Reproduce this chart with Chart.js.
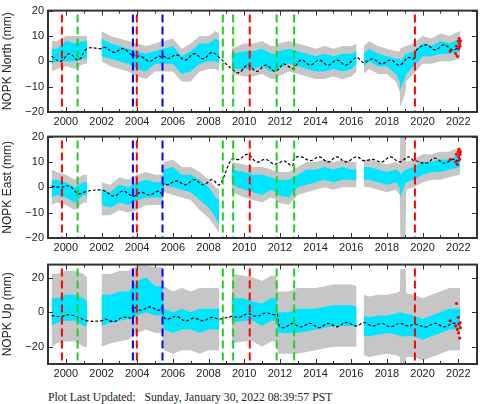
<!DOCTYPE html>
<html>
<head>
<meta charset="utf-8">
<script src="https://cdn.jsdelivr.net/npm/chart.js@4"></script>
<style>
  body { margin: 0; background: #fff; width: 481px; height: 404px; overflow: hidden; position: relative; }
  canvas { position: absolute; left: 0; }
  #footer { position: absolute; left: 48px; top: 391px; font: 11.7px "Liberation Serif", serif; color: #222; white-space: pre; }
</style>
</head>
<body>
<canvas id="north" width="481" height="126" style="top:0"></canvas>
<canvas id="east" width="481" height="128" style="top:126px"></canvas>
<canvas id="up" width="481" height="124" style="top:254px"></canvas>
<div id="footer">Plot Last Updated:   Sunday, January 30, 2022 08:39:57 PST</div>
<script>
// Data

const times = [1999.2, 1999.5, 2000, 2000.5, 2001, 2001.2, 2001.6, 2002, 2002.5, 2003, 2003.5, 2004, 2004.5, 2005, 2005.4, 2005.5,
    2006, 2006.5, 2007, 2007.5, 2008, 2008.4, 2008.6, 2009, 2009.3, 2010, 2010.5, 2011, 2011.5, 2011.8, 2011.9, 2012.5,
    2013, 2013.5, 2014, 2014.5, 2015, 2015.5, 2016, 2016.3, 2016.5, 2016.7, 2017, 2017.5, 2018, 2018.5, 2018.72, 2018.75,
    2019.05, 2019.08, 2019.5, 2020, 2020.5, 2021, 2021.5, 2022.1];

const northCyanLo = [-1, 0, 0, 0, 1, 1, null, 2, 1, 0, -1, -3, -4, -1, -1, -1, -1, -5, -4, -1, 0, 0, -1, null, -3, -3, -3, -2, -4, -4, -3, -1,
    -2, -3, -4, -4, -3, -4, -3, -1, null, -2, 0, -2, -2, -5, -8, -11, -6, -5, -2, 2, 2, 3, 3, 4];
const northCyanHi = [5, 5, 8, 7, 8, 8, null, 9, 7, 6, 5, 4, 3, 4, 5, 5, 6, 2, 4, 7, 7, 9, 8, null, 3, 4, 4, 5, 3, 3, 4, 5,
    4, 3, 2, 3, 2, 3, 3, 4, null, 3, 5, 3, 2, 1, 1, 0, 3, 3, 4, 7, 6, 8, 7, 9];
const northGrayLo = [-4, -3, -2, -3, -1, -1, null, 0, -2, -3, -4, -6, -7, -4, -4, -4, -4, -8, -8, -4, -3, -3, -4, null, -5, -6, -6, -5, -7, -7, -6, -4,
    -5, -6, -7, -7, -6, -7, -6, -4, null, -5, -3, -5, -5, -8, -12, -18, -12, -8, -5, -1, -1, 0, 0, 1];
const northGrayHi = [8, 8, 10, 10, 10, 10, null, 12, 10, 9, 8, 7, 6, 7, 8, 8, 9, 5, 7, 10, 10, 12, 11, null, 5, 7, 7, 8, 6, 6, 7, 8,
    7, 6, 5, 6, 5, 6, 6, 7, null, 6, 8, 6, 5, 4, 4, 5, 6, 6, 7, 10, 9, 11, 10, 12];

const eastCyanLo = [-4, -3, -4, -6, -3, -3, null, -7, -8, -6, -7, -5, -4, -4, -4, 1, 0, -1, -2, -5, -8, -12, -15, null, 1, -1, -2, -3, -1, -2, -3, -4,
    0, 1, 2, 3, 2, 3, 3, 3, null, 3, 3, 2, 1, 2, 0, -4, 2, 2, 3, 5, 6, 6, 7, 8];
const eastCyanHi = [3, 3, 2, 0, 2, 2, null, -1, -2, 1, 0, 2, 3, 2, 2, 7, 8, 5, 5, 3, 0, -4, -5, null, 7, 6, 5, 5, 4, 3, 3, 3,
    5, 7, 7, 8, 7, 8, 7, 7, null, 8, 8, 7, 6, 7, 6, 5, 7, 7, 8, 10, 10, 11, 11, 13];
const eastGrayLo = [-7, -6, -7, -9, -6, -6, null, -11, -11, -9, -10, -9, -7, -7, -7, -2, -3, -4, -5, -9, -12, -16, -18, null, -2, -4, -5, -6, -4, -5, -6, -7,
    -3, -2, -1, 0, -1, 0, 0, 0, null, 0, 0, -1, -2, -1, -3, -20, -20, -1, 0, 2, 3, 3, 4, 5];
const eastGrayHi = [7, 6, 5, 3, 5, 5, null, 2, 1, 4, 3, 5, 6, 5, 5, 10, 11, 8, 8, 6, 3, 0, -1, null, 10, 9, 8, 8, 7, 6, 6, 6,
    8, 10, 10, 11, 10, 11, 10, 10, null, 11, 11, 10, 9, 10, 9, 20, 20, 10, 11, 13, 13, 14, 14, 16];

const upCyanLo = [-8, -6, -5, -5, -8, -8, null, -8, -6, -5, -4, -2, 0, -2, -2, -10, -12, -10, -10, -12, -10, -10, -10, null, -6, -5, -5, -8, -5, -5, -12, -12,
    -12, -11, -10, -9, -8, -8, -8, -8, null, -14, -14, -13, -12, -13, -14, -14, -14, -14, -14, -16, -14, -12, -10, -10];
const upCyanHi = [8, 8, 10, 10, 8, 6, null, 10, 10, 12, 12, 18, 20, 15, 15, 2, 0, 2, 0, 2, 2, 2, 2, null, 8, 8, 6, 5, 8, 8, 0, 0,
    2, 2, 2, 3, 4, 4, 4, 3, null, -2, -3, -2, -2, -1, 0, 0, -1, -1, -2, -4, -2, 0, 2, 2];
const upGrayLo = [-20, -18, -17, -17, -20, -20, null, -20, -18, -17, -16, -12, -10, -12, -12, -22, -24, -22, -22, -24, -22, -22, -22, null, -18, -17, -17, -20, -17, -17, -24, -24,
    -24, -23, -22, -21, -20, -20, -20, -20, null, -25, -26, -25, -24, -25, -26, -30, -30, -26, -26, -28, -26, -24, -22, -22];
const upGrayHi = [22, 22, 24, 24, 22, 20, null, 22, 22, 24, 24, 27, 27, 26, 26, 15, 12, 14, 12, 14, 14, 14, 14, null, 22, 21, 20, 18, 21, 21, 12, 12,
    14, 14, 14, 15, 16, 16, 16, 15, null, 10, 9, 10, 10, 11, 12, 25, 25, 11, 10, 8, 10, 12, 14, 14];

const modelTimes = [1999.2, 1999.7, 2000.2, 2000.7, 2001.2, 2002.0, 2002.2, 2002.7, 2003.2, 2003.7, 2003.8, 2003.85, 2004.2, 2004.7,
    2005.2, 2005.4, 2005.5, 2005.7, 2006.2, 2006.7, 2007.2, 2007.7, 2008.2, 2008.6, 2009.3, 2009.7, 2010.2, 2010.7, 2011.2, 2011.7,
    2011.85, 2011.95, 2012.2, 2012.7, 2012.8, 2013.2, 2013.7, 2014.2, 2014.7, 2015.2, 2015.7, 2016.3, 2016.7, 2017.2, 2017.7,
    2018.2, 2018.7, 2019.2, 2019.5, 2019.6, 2020.2, 2020.7, 2021.2, 2021.7, 2022.1];
const northModel = [2, 0, 3, 0.5, 5, 5, 5.5, 3.5, 5, 2.5, 3, 2, 2, 0, 2, 1.5, 2, 1, 2.5, 0.5, 3, 1, 3.5, 1.5, -3, -4.5, -1.5, -4, -1.5, -4,
    -3.5, -3, -1, -3, -2.5, 0.5, -1.5, 0.5, -1.5, 0.5, -1.5, 1.5, -0.5, 1, -1, 0.5, -1.5, 1.5, 1, 4, 6.5, 4.5, 6.5, 4.5, 6];
const eastModel = [0.5, 0, 0.5, -2.5, -1.5, -1, -1.5, -3.5, -1.5, -3.5, -3.5, -3.5, -2, -3, -1.5, -2.5, 1.5, 1, 2.5, 1, 3, 1, 3, 1, 11, 11, 13, 10, 11, 9,
    9.5, 9.5, 10.5, 8.5, 11.5, 12, 10.5, 12, 10, 12, 10, 12, 10.5, 11, 10, 12, 10, 12, 10.5, 10.5, 9.5, 11.5, 9.5, 11, 10];
const upModel = [-2, -2.5, -1.5, -3, -5, -5, -4, -5.5, -3, -3.5, -3, 2.5, 1, 3, 1, 2.5, -3, -4, -2.5, -5, -3.5, -5, -3, -4, -2.5, -3, -1, -2.5, -0.5, -1.5,
    -1, -7.5, -9, -6.5, -7, -8.5, -6.5, -9, -6.5, -8.5, -6, -8, -6, -8, -6.5, -8.5, -6.5, -8, -7, -7, -8.5, -6.5, -8.5, -6.5, -7];

const redTimes = [2021.55, 2021.85, 2021.9, 2021.95, 2022.0, 2022.02, 2022.05, 2022.08, 2022.1, 2022.12];
const northRed = [4, 3, 6, 2, 8, 5, 9, 7, 6, 8];
const eastRed = [11, 10, 13, 9, 14, 12, 15, 11, 13, 14];
const upRed = [-5, -8, 5, -10, -3, -12, -7, -15, -6, -9];

const eventYears = [1999.78, 2000.66, 2003.76, 2003.98, 2005.42, 2008.8, 2009.38, 2010.31, 2011.82, 2012.8, 2019.57];
const eventColors = ["#ff0000", "#22cc22", "#0000ff", "#ff0000", "#0000ff", "#22cc22", "#22cc22", "#ff0000", "#22cc22", "#22cc22", "#ff0000"];

const yearTicks = [2000, 2002, 2004, 2006, 2008, 2010, 2012, 2014, 2016, 2018, 2020, 2022];

// Helpers

function pts(xs, ys) {
    return xs.map((x, i) => ({ x: x, y: ys[i] }));
}

function band(lo, hi, color, order) {
    return [
        { data: pts(times, hi), borderWidth: 0, pointRadius: 0, fill: false, spanGaps: false, order: order },
        { data: pts(times, lo), borderWidth: 0, pointRadius: 0, fill: "-1", backgroundColor: color, spanGaps: false, order: order },
    ];
}

const framePlugin = {
    id: "frame",
    afterDatasetsDraw(chart) {
        const ctx = chart.ctx, a = chart.chartArea, xs = chart.scales.x, ys = chart.scales.y;
        ctx.save();
        ctx.beginPath();
        ctx.rect(a.left, a.top, a.right - a.left, a.bottom - a.top);
        ctx.clip();
        ctx.lineWidth = 2;
        ctx.setLineDash([8, 4]);
        eventYears.forEach((yr, i) => {
            const px = xs.getPixelForValue(yr);
            ctx.strokeStyle = eventColors[i];
            ctx.beginPath();
            ctx.moveTo(px, a.top + 4);
            ctx.lineTo(px, a.bottom);
            ctx.stroke();
        });
        ctx.restore();

        ctx.save();
        ctx.strokeStyle = "#333";
        ctx.lineWidth = 1;
        for (let yr = 1999; yr <= 2023; yr++) {
            const px = Math.round(xs.getPixelForValue(yr)) + 0.5;
            const len = yr % 2 == 0 ? 5 : 3;
            ctx.beginPath();
            ctx.moveTo(px, a.bottom); ctx.lineTo(px, a.bottom - len);
            ctx.moveTo(px, a.top); ctx.lineTo(px, a.top + len);
            ctx.stroke();
        }
        ys.ticks.forEach(t => {
            const py = Math.round(ys.getPixelForValue(t.value)) + 0.5;
            ctx.beginPath();
            ctx.moveTo(a.left, py); ctx.lineTo(a.left + 5, py);
            ctx.moveTo(a.right, py); ctx.lineTo(a.right - 5, py);
            ctx.stroke();
        });
        ctx.lineWidth = 2;
        ctx.strokeRect(a.left, a.top, a.right - a.left, a.bottom - a.top);
        ctx.restore();
    }
};

function makePanel(id, title, yMin, yMax, yTickList, padTop, xHeight, s) {
    new Chart(document.getElementById(id), {
        type: "line",
        data: {
            datasets: [
                ...band(s.grayLo, s.grayHi, "#c6c6c6", 4),
                ...band(s.cyanLo, s.cyanHi, "#00e5ff", 3),
                { data: pts(modelTimes, s.model), borderColor: "#000", borderWidth: 1.2, borderDash: [3, 2], pointRadius: 0, tension: 0.4, fill: false, order: 2 },
                { data: pts(redTimes, s.red), showLine: false, pointRadius: 1.6, pointBackgroundColor: "#ff0000", pointBorderWidth: 0, order: 1 },
            ],
        },
        options: {
            responsive: false,
            animation: false,
            events: [],
            layout: { padding: { top: padTop, right: 1, left: 0, bottom: 0 } },
            plugins: { legend: { display: false }, tooltip: { enabled: false } },
            scales: {
                x: {
                    type: "linear",
                    min: 1999,
                    max: 2023.05,
                    grid: { display: false, drawTicks: false, tickLength: 0 },
                    border: { display: false },
                    afterBuildTicks: sc => { sc.ticks = yearTicks.map(v => ({ value: v })); },
                    afterFit: sc => { sc.height = xHeight; },
                    ticks: { color: "#222", font: { family: "Liberation Sans", size: 11 }, padding: 3, maxRotation: 0, callback: v => String(v) },
                },
                y: {
                    min: yMin,
                    max: yMax,
                    grid: { display: false, drawTicks: false, tickLength: 0 },
                    border: { display: false },
                    afterBuildTicks: sc => { sc.ticks = yTickList.map(v => ({ value: v })); },
                    afterFit: sc => { sc.width = 48; },
                    title: { display: true, text: title, color: "#222", font: { family: "Liberation Sans", size: 12 }, padding: { top: 0, bottom: 2 } },
                    ticks: { color: "#222", font: { family: "Liberation Sans", size: 11 }, padding: 4, callback: v => v < 0 ? "\u2212" + (-v) : String(v) },
                },
            },
        },
        plugins: [framePlugin],
    });
}

makePanel("north", "NOPK North (mm)", -20, 20, [-20, -10, 0, 10, 20], 5, 14,
    { grayLo: northGrayLo, grayHi: northGrayHi, cyanLo: northCyanLo, cyanHi: northCyanHi, model: northModel, red: northRed });
makePanel("east", "NOPK East (mm)", -20, 20, [-20, -10, 0, 10, 20], 6, 16,
    { grayLo: eastGrayLo, grayHi: eastGrayHi, cyanLo: eastCyanLo, cyanHi: eastCyanHi, model: eastModel, red: eastRed });
makePanel("up", "NOPK Up (mm)", -30, 27.5, [-20, 0, 20], 6, 14,
    { grayLo: upGrayLo, grayHi: upGrayHi, cyanLo: upCyanLo, cyanHi: upCyanHi, model: upModel, red: upRed });
</script>
</body>
</html>
